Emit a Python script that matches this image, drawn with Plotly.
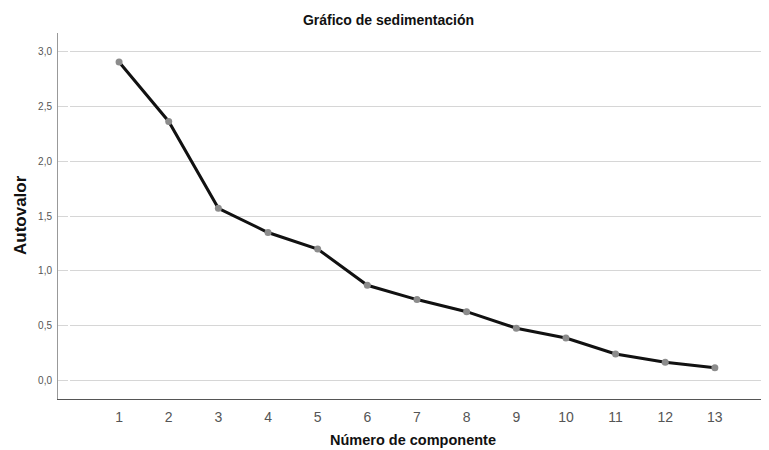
import plotly.graph_objects as go

componentes = list(range(1, 14))
autovalores = [2.90, 2.36, 1.57, 1.35, 1.20, 0.87, 0.74, 0.63, 0.48, 0.39, 0.245, 0.17, 0.12]
y_ticks = [0.0, 0.5, 1.0, 1.5, 2.0, 2.5, 3.0]

# the page body adds an 8px margin, so the figure is a bit smaller than the window
fig = go.Figure()
fig.add_trace(go.Scatter(
    x=componentes, y=autovalores, mode="lines+markers",
    line=dict(color="#111111", width=3),
    marker=dict(color="#8c8c8c", size=7),
    showlegend=False,
))

fig.update_layout(
    width=761, height=442,
    margin=dict(l=50, r=2, t=25, b=51, autoexpand=False),
    paper_bgcolor="white", plot_bgcolor="white",
    separators=",.",
    font=dict(family="Liberation Sans, Arial, sans-serif", color="#222222"),
    title=dict(text="<b>Gráfico de sedimentación</b>", x=0.5, xanchor="center",
               y=1 - 12 / 442, yanchor="middle", font=dict(size=14, color="#111111")),
)
fig.update_xaxes(
    range=[-0.23, 14.05], tickvals=componentes, showgrid=False, automargin=False,
    showline=True, linecolor="#555555", linewidth=1,
    ticks="", ticklabelstandoff=5, tickfont=dict(size=14, color="#555555"),
)
fig.update_yaxes(
    range=[-0.164, 3.164], tickvals=y_ticks, tickformat=".1f", automargin=False,
    showgrid=True, gridcolor="#d6d6d6", gridwidth=1, zeroline=False,
    showline=True, linecolor="#999999", linewidth=1,
    ticks="", ticklabelstandoff=3, tickfont=dict(size=10, color="#555555"),
)
fig.add_annotation(text="<b>Número de componente</b>", xref="paper", yref="paper",
                   x=0.5, y=-41 / 366, xanchor="center", yanchor="middle",
                   showarrow=False, font=dict(size=14.5, color="#111111"))
fig.add_annotation(text="<b>Autovalor</b>", xref="paper", yref="paper",
                   x=-38 / 709, y=(399 - 215) / 366, xanchor="center", yanchor="middle",
                   textangle=-90, showarrow=False, font=dict(size=17, color="#111111"))

fig.write_html("out.html")
